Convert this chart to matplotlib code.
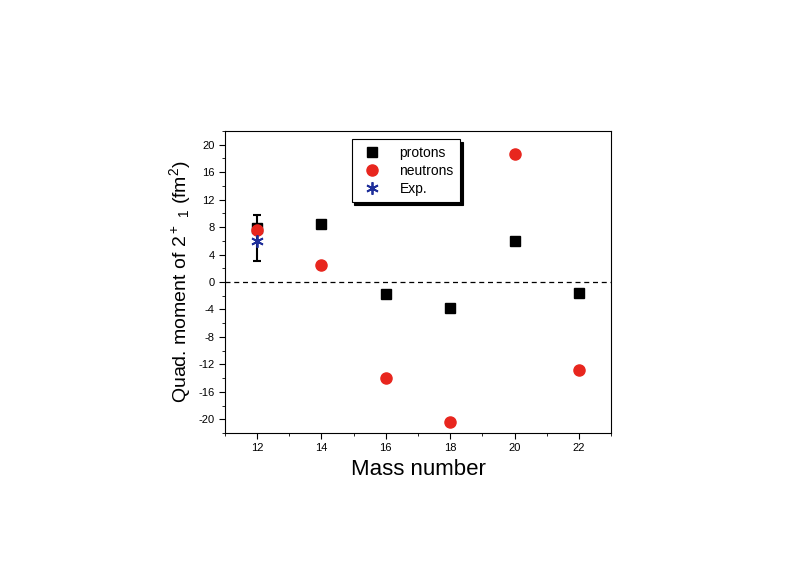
import matplotlib.pyplot as plt
import numpy as np
from matplotlib.ticker import MultipleLocator

plt.rcParams['font.family'] = ['Liberation Sans', 'DejaVu Sans']
plt.rcParams['mathtext.default'] = 'regular'
plt.rcParams['axes.unicode_minus'] = False

# data
mass = [12, 14, 16, 18, 20, 22]
protons = [7.8, 8.4, -1.8, -3.8, 6.0, -1.6]
neutrons = [7.6, 2.5, -14.0, -20.4, 18.7, -12.8]
exp_mass = [12]
exp_val = [6.0]
exp_err_lo = [3.0]
exp_err_hi = [3.8]

fig = plt.figure(figsize=(8, 5.82), dpi=100)
ax = fig.add_axes([0.281, 0.256, 0.483, 0.519])

ax.axhline(0, color='black', linestyle='--', linewidth=0.9, dashes=(4, 3))
ax.errorbar(exp_mass, exp_val, yerr=[exp_err_lo, exp_err_hi], fmt='none',
            ecolor='black', elinewidth=1.5, capsize=3, capthick=1.5, zorder=2)
ax.plot(mass, protons, 's', color='black', markersize=7, label='protons', zorder=3)
ax.plot(mass, neutrons, 'o', color='#e8261e', markersize=8, label='neutrons', zorder=4)
ax.plot(exp_mass, exp_val, marker=(6, 2, 0), linestyle='none', color='#1f2f9a',
        markersize=9, markeredgewidth=1.3, label='Exp.', zorder=5)

ax.set_xlim(11, 23)
ax.set_ylim(-22, 22)
ax.xaxis.set_major_locator(MultipleLocator(2))
ax.xaxis.set_minor_locator(MultipleLocator(1))
ax.yaxis.set_major_locator(MultipleLocator(4))
ax.yaxis.set_minor_locator(MultipleLocator(2))
ax.set_xticks(np.arange(12, 23, 2))
ax.tick_params(axis='both', which='major', direction='out', length=4, labelsize=8)
ax.tick_params(axis='both', which='minor', direction='out', length=2.5)

ax.set_xlabel('Mass number', fontsize=16)
ax.set_ylabel(r'Quad. moment of 2$^+$$_{\ 1}$ (fm$^2$)', fontsize=14)

leg = ax.legend(loc='upper left', bbox_to_anchor=(0.31, 0.995), fontsize=10,
                fancybox=False, shadow={'color': 'black', 'alpha': 1},
                framealpha=1, edgecolor='black',
                handletextpad=1.0, borderpad=0.45, labelspacing=0.3)
leg.get_frame().set_linewidth(0.8)

fig.savefig('out.png', dpi=100)
